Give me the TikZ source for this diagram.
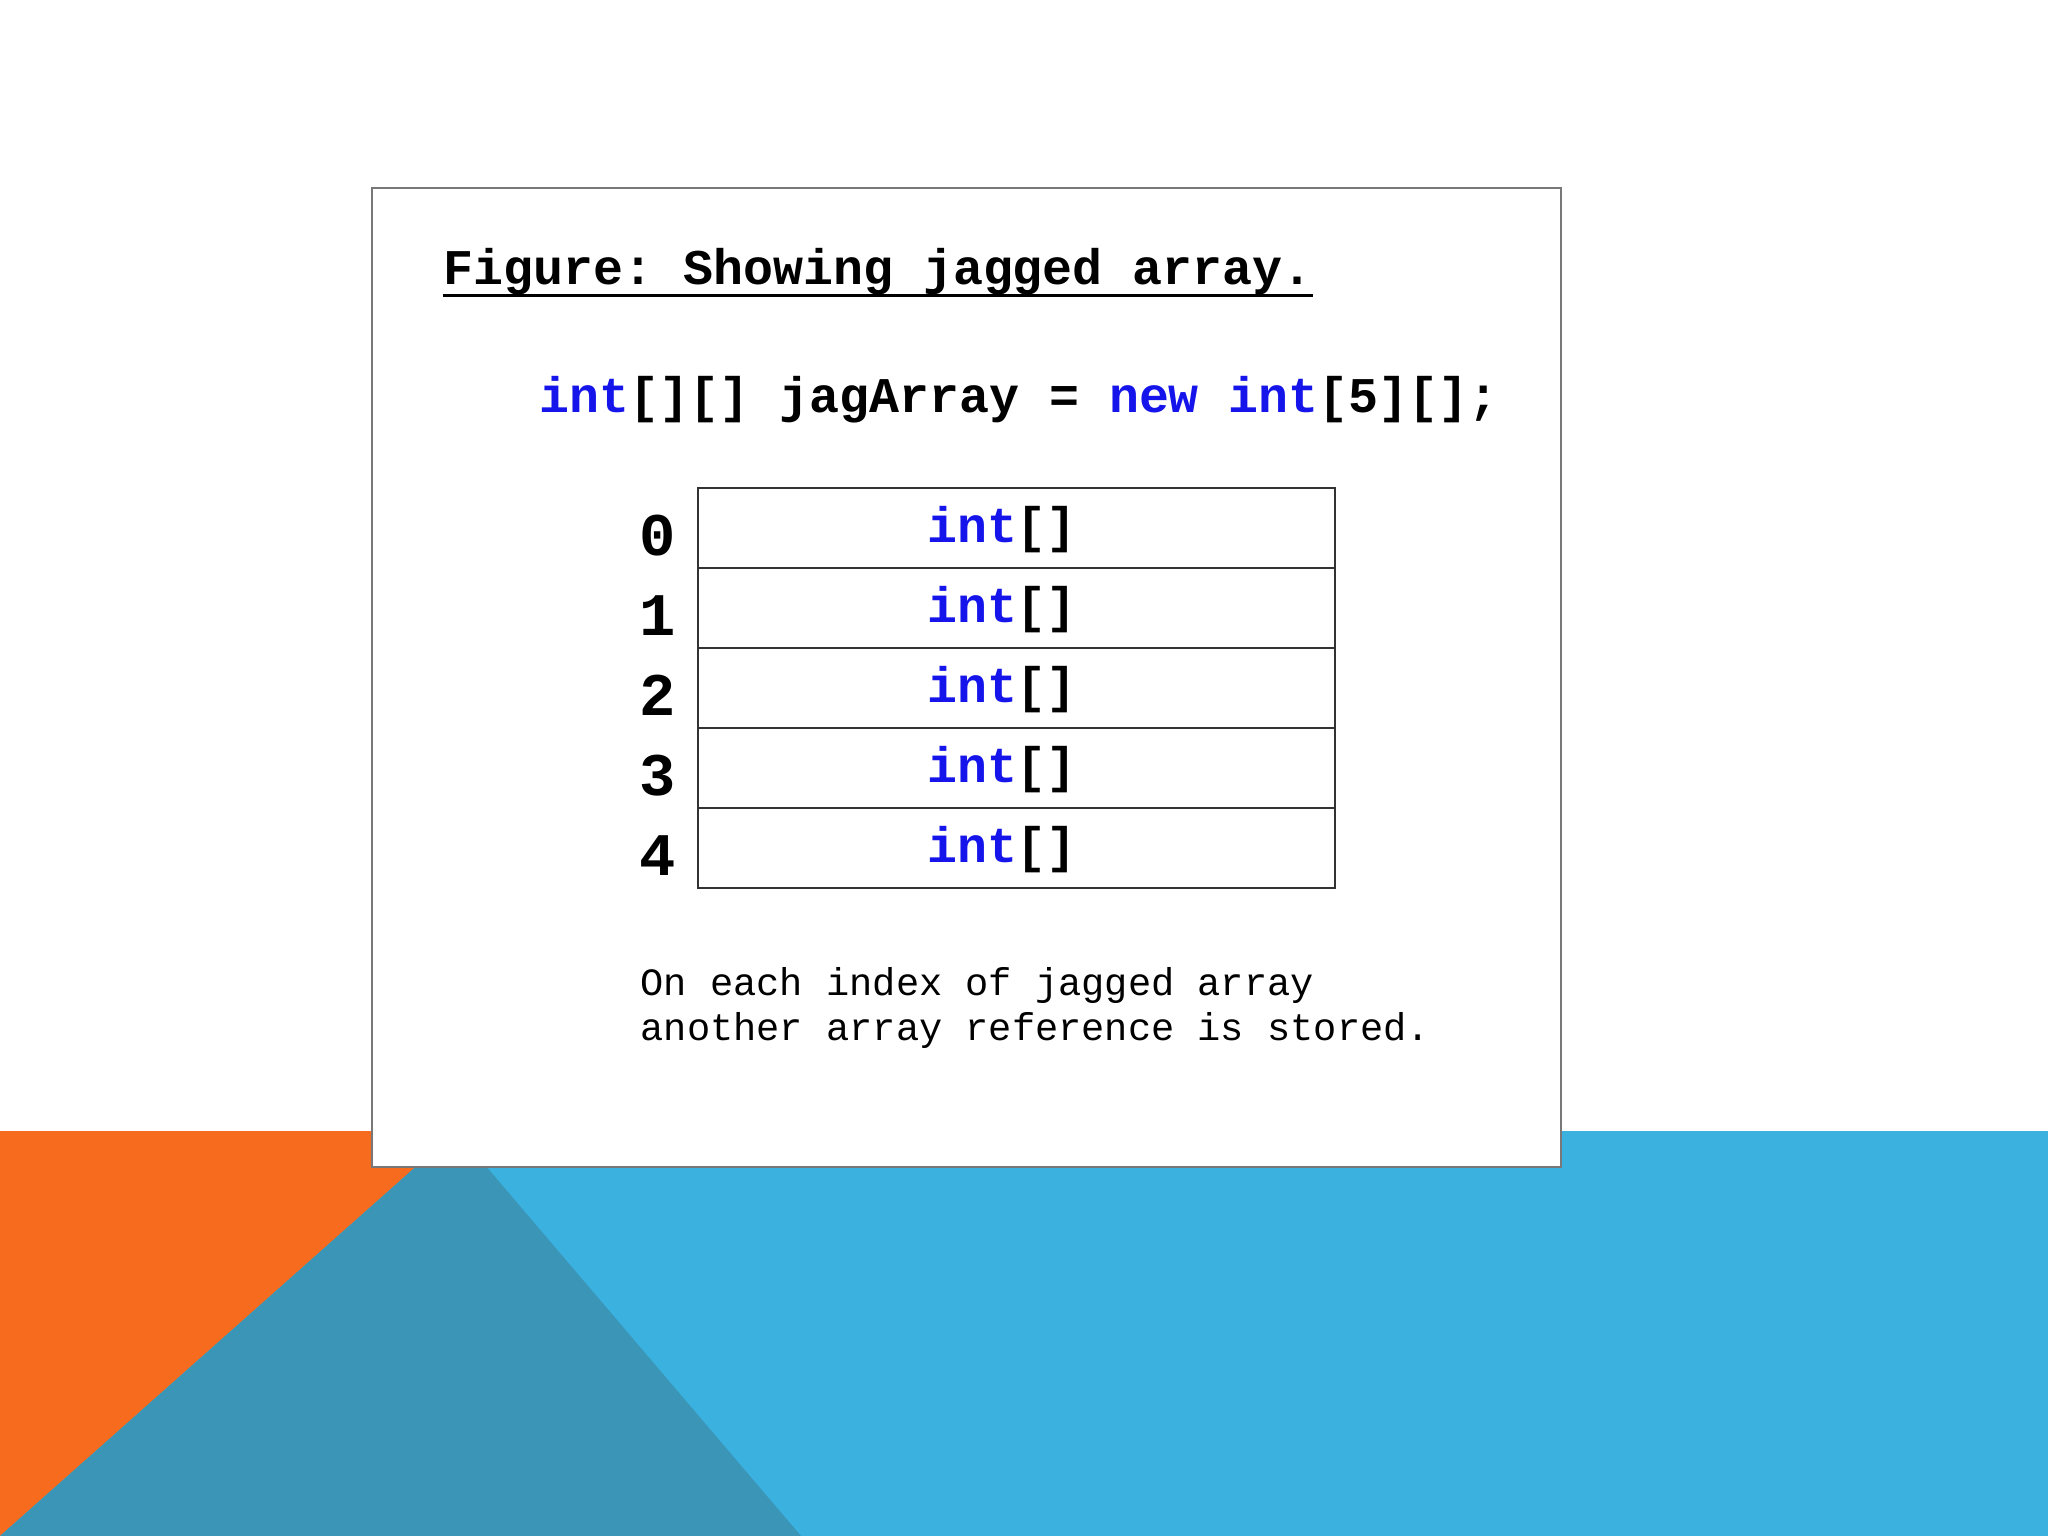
\documentclass[tikz,border=0pt]{standalone}
\usepackage{fontspec}
\setmonofont{Liberation Mono}
\definecolor{bandorange}{RGB}{246,107,29}
\definecolor{bandteal}{RGB}{59,149,182}
\definecolor{bandblue}{RGB}{59,177,224}
\definecolor{kwblue}{RGB}{20,20,235}
\definecolor{framegray}{RGB}{120,120,120}
\definecolor{cellgray}{RGB}{50,50,50}
\newcommand{\kw}[1]{\textcolor{kwblue}{#1}}

\begin{document}
\begin{tikzpicture}[x=0.01cm,y=-0.01cm,
    code/.style={font=\ttfamily\bfseries\fontsize{14.2}{17}\selectfont,inner sep=0pt},
    idx/.style={font=\ttfamily\bfseries\fontsize{17.2}{20}\selectfont,inner sep=0pt,anchor=base},
    cell/.style={draw=cellgray,line width=0.7pt,minimum width=6.37cm,minimum height=0.8cm,inner sep=0pt}]
        \useasboundingbox (0,0) rectangle (2048,1536);

        % Background band
        \fill[bandblue] (0,1131) rectangle (2048,1536);
        \fill[bandorange] (0,1131) -- (456,1131) -- (0,1536) -- cycle;
        \fill[bandteal] (456,1131) -- (801,1536) -- (0,1536) -- cycle;

        % Slide frame
        \draw[framegray,line width=0.6pt,fill=white] (372,188) rectangle (1561,1167);

        % Title and declaration
        \node[code,anchor=base west] (title) at (443,284) {Figure: Showing jagged array.};
        \draw[line width=0.85pt] (title.south west) -- (title.south east);
        \node[code,anchor=base west] (decl) at (539,412)
            {\kw{int}[][] jagArray = \kw{new} \kw{int}[5][];};

        % Rows of the jagged array
        \foreach \i in {0,...,4} {
          \node[cell] (row\i) at (1016.5,{528+80*\i}) {};
          \node[code,anchor=base] (type\i) at (1002,{542+80*\i}) {\kw{int}[]};
          \node[idx] (idx\i) at (658,{555+80*\i}) {\i};
        }

        % Note
        \node[font=\ttfamily\fontsize{11}{12.8}\selectfont,inner sep=0pt,anchor=base west,align=left] (note) at (640,1040)
            {On each index of jagged array\\another array reference is stored.};
    \end{tikzpicture}
\end{document}
